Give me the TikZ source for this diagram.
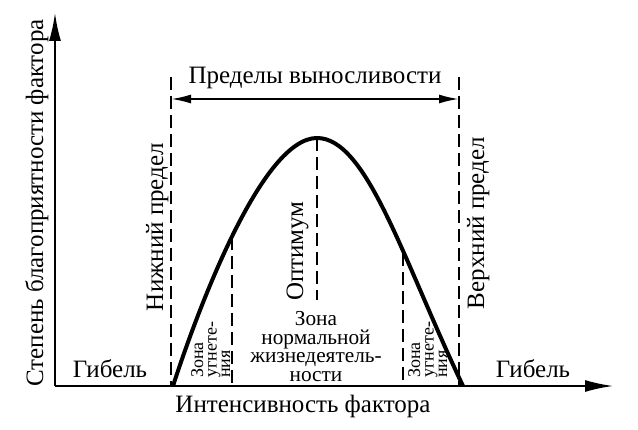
\documentclass[tikz,border=0pt]{standalone}
\usepackage{fontspec}
\setmainfont{Liberation Serif}
\usetikzlibrary{arrows.meta}
\tikzset{
  axisline/.style={line width=2pt, -{Latex[length=28pt,width=12pt]}},
  dline/.style={line width=2.5pt, dash pattern=on 13pt off 6pt},
  curveline/.style={line width=4pt},
  spanarrow/.style={line width=2pt, {Latex[length=20pt,width=9pt]}-{Latex[length=20pt,width=9pt]}},
  bigtext/.style={font=\fontsize{25}{28}\selectfont, inner sep=0pt},
  midtext/.style={font=\fontsize{21.3}{18.5}\selectfont, inner sep=0pt, align=center},
  smalltext/.style={font=\fontsize{18}{19}\selectfont, inner sep=0pt, rotate=90, anchor=base west}
}
\begin{document}
\begin{tikzpicture}[x=1pt,y=-1pt]
\useasboundingbox (0,0) rectangle (638,430);
\fill[white] (0,0) rectangle (638,430);
% axes
\coordinate (O) at (55,386);
\coordinate (Ytop) at (55,13);
\coordinate (Xend) at (613,386);
\draw[axisline] (O) -- (Ytop);
\draw[axisline] (O) -- (Xend);
% dashed limits
\coordinate (Lt) at (171,77); \coordinate (Lb) at (171,386);
\coordinate (Rt) at (459,77); \coordinate (Rb) at (459,386);
\coordinate (IL) at (232,237); \coordinate (ILb) at (232,386);
\coordinate (IR) at (403,253); \coordinate (IRb) at (403,386);
\coordinate (Pk) at (317,138); \coordinate (Pkb) at (317,300);
\draw[dline] (Lt) -- (Lb);
\draw[dline] (Rt) -- (Rb);
\draw[dline] (IL) -- (ILb);
\draw[dline] (IR) -- (IRb);
\draw[dline] (Pk) -- (Pkb);
% range arrow
\coordinate (PL) at (171,99); \coordinate (PR) at (459,99);
\draw[spanarrow] (PL) -- (PR);
% curve
\coordinate (C0) at (173,386);
\coordinate (C3) at (463,386);
\draw[curveline] (C0) .. controls (198,308.5) and (262,138) .. (Pk)
  .. controls (367,138) and (403,260) .. (C3);
% labels
\node[bigtext, anchor=base] (tPred) at (315,84) {Пределы выносливости};
\node[bigtext, anchor=base] (tInt) at (303,413) {Интенсивность фактора};
\node[bigtext, anchor=base, rotate=90] (tSt) at (43,203) {Степень благоприятности фактора};
\node[bigtext, anchor=base, rotate=90] (tNiz) at (163,227) {Нижний предел};
\node[bigtext, anchor=base, rotate=90] (tVer) at (484,223) {Верхний предел};
\node[bigtext, anchor=base, rotate=90] (tOpt) at (303,251) {Оптимум};
\node[bigtext, anchor=base] (tG1) at (110,378) {Гибель};
\node[bigtext, anchor=base] (tG2) at (533,378) {Гибель};
\node[midtext, anchor=north] (zone) at (316,311.5) {Зона\\нормальной\\жизнедеятель-\\ности};
\node[smalltext] (a1) at (203,378) {Зона};
\node[smalltext] (a2) at (216.5,378) {угнете-};
\node[smalltext] (a3) at (230,378) {ния};
\node[smalltext] (b1) at (420,378) {Зона};
\node[smalltext] (b2) at (433.5,378) {угнете-};
\node[smalltext] (b3) at (447,378) {ния};
\end{tikzpicture}
\end{document}
